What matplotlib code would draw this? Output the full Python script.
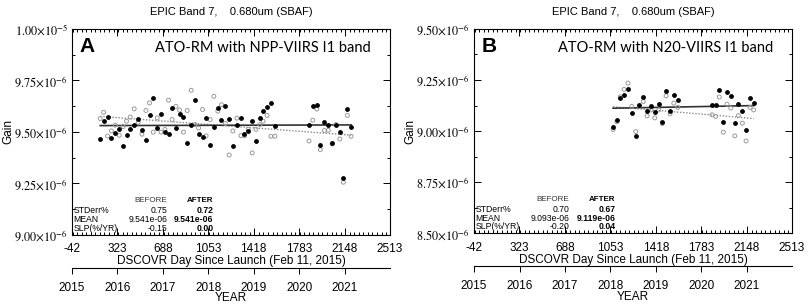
import numpy as np
import matplotlib
matplotlib.use('Agg')
import matplotlib.pyplot as plt
from matplotlib.ticker import FixedLocator, MultipleLocator, FuncFormatter

plt.rcParams['font.family'] = ['Liberation Sans', 'DejaVu Sans']
plt.rcParams['mathtext.fontset'] = 'stix'
plt.rcParams['axes.unicode_minus'] = False

# ---- panel A: NPP-VIIRS I1 (days since launch, gain in 1e-6) ----
days_a = [185, 212, 244, 274, 306, 338, 368, 396, 426, 458, 490, 520, 552, 581,
          611, 643, 673, 705, 734, 763, 793, 822, 854, 884, 916, 946, 975, 1007,
          1036, 1069, 1098, 1130, 1159, 1191, 1221, 1251, 1283, 1315, 1344, 1374,
          1406, 1436, 1468, 1494, 1526, 1556, 1588,
          1863, 1893, 1925, 1954, 1986, 2018, 2048, 2078, 2110, 2139, 2171, 2201]
after_a = [9.466, 9.554, 9.573, 9.473, 9.494, 9.512, 9.432, 9.485, 9.512, 9.536,
           9.565, 9.507, 9.461, 9.581, 9.666, 9.519, 9.585, 9.499, 9.489, 9.614,
           9.518, 9.588, 9.572, 9.445, 9.536, 9.653, 9.489, 9.474, 9.570, 9.437,
           9.523, 9.616, 9.558, 9.627, 9.565, 9.432, 9.536, 9.570, 9.490, 9.503,
           9.554, 9.458, 9.570, 9.601, 9.620, 9.638, 9.528,
           9.536, 9.625, 9.632, 9.437, 9.549, 9.536, 9.448, 9.536, 9.499, 9.278,
           9.612, 9.524]
before_a = [9.565, 9.595, 9.480, 9.505, 9.533, 9.484, 9.526, 9.552, 9.572, 9.612,
            9.547, 9.489, 9.604, 9.641, 9.499, 9.568, 9.499, 9.512, 9.654, 9.560,
            9.624, 9.606, 9.499, 9.604, 9.702, 9.536, 9.519, 9.609, 9.481, 9.560,
            9.673, 9.601, 9.632, 9.541, 9.388, 9.505, 9.567, 9.482, 9.481, 9.513,
            9.398, 9.513, 9.536, 9.552, 9.580, 9.479, 9.479,
            9.456, 9.557, 9.611, 9.414, 9.507, 9.508, 9.442, 9.536, 9.466, 9.256,
            9.580, 9.479]

# ---- panel B: N20-VIIRS I1 ----
days_b = [1075, 1105, 1133, 1163, 1195, 1225, 1257, 1286, 1318, 1348, 1380, 1410,
          1442, 1471, 1501, 1533, 1563, 1595,
          1870, 1900, 1929, 1961, 1991, 2021, 2053, 2082, 2114, 2144, 2176, 2205]
after_b = [9.018, 9.055, 9.162, 9.179, 9.204, 9.091, 8.977, 9.130, 9.165, 9.101,
           9.121, 9.093, 9.135, 9.047, 9.196, 9.100, 9.175, 9.153,
           9.130, 9.129, 9.202, 9.047, 9.193, 9.170, 9.039, 9.132, 9.101, 9.005,
           9.160, 9.140]
before_b = [9.008, 9.046, 9.168, 9.204, 9.235, 9.121, 8.998, 9.120, 9.145, 9.075,
            9.104, 9.065, 9.104, 9.037, 9.173, 9.085, 9.137, 9.116,
            9.080, 9.072, 9.167, 8.995, 9.132, 9.113, 8.977, 9.076, 9.039, 8.952,
            9.116, 9.104]

day_ticks = [-42, 323, 688, 1053, 1418, 1783, 2148, 2513]
year_ticks = [2015, 2016, 2017, 2018, 2019, 2020, 2021, 2022]

stats_a = [('STDerr%', '0.75', '0.72'), ('MEAN', '9.541e-06', '9.541e-06'),
           ('SLP(%/YR)', '-0.15', '0.00')]
stats_b = [('STDerr%', '0.70', '0.67'), ('MEAN', '9.093e-06', '9.119e-06'),
           ('SLP(%/YR)', '-0.20', '0.04')]

title = 'EPIC Band 7,    0.680um (SBAF)'


def day2year(d):
    return 2015 + (np.asarray(d, dtype=float) + 42) / 365.25


def year2day(y):
    return (np.asarray(y, dtype=float) - 2015) * 365.25 - 42


def gain_fmt(v, pos):
    exp = int(np.floor(np.log10(v) + 1e-9))
    mant = v / 10.0 ** exp
    return r'$%.2f{\times}10^{%d}$' % (mant, exp)


def draw_panel(fig, rect, days, after, before, ylim, yticks, letter, label, stats):
    ax = fig.add_axes(rect)
    days = np.array(days, dtype=float)
    after = np.array(after) * 1e-6
    before = np.array(before) * 1e-6

    ax.scatter(days, before, s=8, facecolors='none', edgecolors='#9a9a9a',
               linewidths=0.7, zorder=3)
    ax.scatter(days, after, s=6, color='black', zorder=4)

    xx = np.array([days.min(), days.max()])
    pb = np.polyfit(days, before, 1)
    ax.plot(xx, np.polyval(pb, xx), ls=(0, (1, 1.2)), color='#8a8a8a', lw=1.0, zorder=2)
    pa = np.polyfit(days, after, 1)
    ax.plot(xx, np.polyval(pa, xx), color='#333333', lw=1.2, zorder=2)

    ax.set_xlim(-42, 2513)
    ax.set_ylim(*ylim)
    ax.xaxis.set_major_locator(FixedLocator(day_ticks))
    ax.xaxis.set_minor_locator(MultipleLocator(36.5))
    ax.yaxis.set_major_locator(FixedLocator(yticks))
    ax.yaxis.set_minor_locator(MultipleLocator(0.125e-6))
    ax.yaxis.set_major_formatter(FuncFormatter(gain_fmt))
    ax.tick_params(which='both', direction='in', top=True, right=True, width=0.7)
    ax.tick_params(which='major', length=5)
    ax.tick_params(which='minor', length=2.5)
    ax.tick_params(axis='x', labelsize=8.5, pad=6)
    ax.tick_params(axis='y', labelsize=8.8, pad=3)
    for sp in ax.spines.values():
        sp.set_linewidth(0.8)

    ax.set_xlabel('DSCOVR Day Since Launch (Feb 11, 2015)', fontsize=8.5, labelpad=0)
    ax.set_ylabel('Gain', fontsize=8.5)
    ax.yaxis.set_label_coords(-0.18, 0.5)
    ax.set_title(title, fontsize=8, pad=10)

    ax.text(0.025, 0.915, letter, transform=ax.transAxes, fontsize=15,
            fontweight='bold', va='center', ha='left')
    ax.text(0.94, 0.905, label, transform=ax.transAxes, fontsize=10.5,
            family='Lato', va='center', ha='right')

    ax.text(0.30, 0.165, 'BEFORE', transform=ax.transAxes, fontsize=5.8,
            ha='right', va='center', color='#333333')
    ax.text(0.445, 0.165, 'AFTER', transform=ax.transAxes, fontsize=5.8,
            ha='right', va='center', fontweight='bold')
    for i, (name, b, a) in enumerate(stats):
        y = 0.117 - i * 0.042
        ax.text(0.004, y, name, transform=ax.transAxes, fontsize=6.2,
                ha='left', va='center')
        ax.text(0.30, y, b, transform=ax.transAxes, fontsize=6.2,
                ha='right', va='center')
        ax.text(0.445, y, a, transform=ax.transAxes, fontsize=6.2,
                ha='right', va='center', fontweight='bold')

    sec = ax.secondary_xaxis(-0.16, functions=(day2year, year2day))
    sec.xaxis.set_major_locator(FixedLocator(year_ticks))
    sec.tick_params(direction='out', length=4, width=0.7, labelsize=8.5, pad=6)
    sec.spines['bottom'].set_linewidth(0.8)
    sec.set_xlabel('YEAR', fontsize=8.5, labelpad=-1)
    return ax


fig = plt.figure(figsize=(8.09, 3.04), dpi=100)
draw_panel(fig, [0.089, 0.227, 0.393, 0.678], days_a, after_a, before_a,
           (9.0e-6, 1.0e-5), [9.0e-6, 9.25e-6, 9.5e-6, 9.75e-6, 1.0e-5],
           'A', 'ATO-RM with NPP-VIIRS I1 band', stats_a)
draw_panel(fig, [0.586, 0.232, 0.393, 0.673], days_b, after_b, before_b,
           (8.5e-6, 9.5e-6), [8.5e-6, 8.75e-6, 9.0e-6, 9.25e-6, 9.5e-6],
           'B', 'ATO-RM with N20-VIIRS I1 band', stats_b)

fig.savefig('out.png', dpi=100)
